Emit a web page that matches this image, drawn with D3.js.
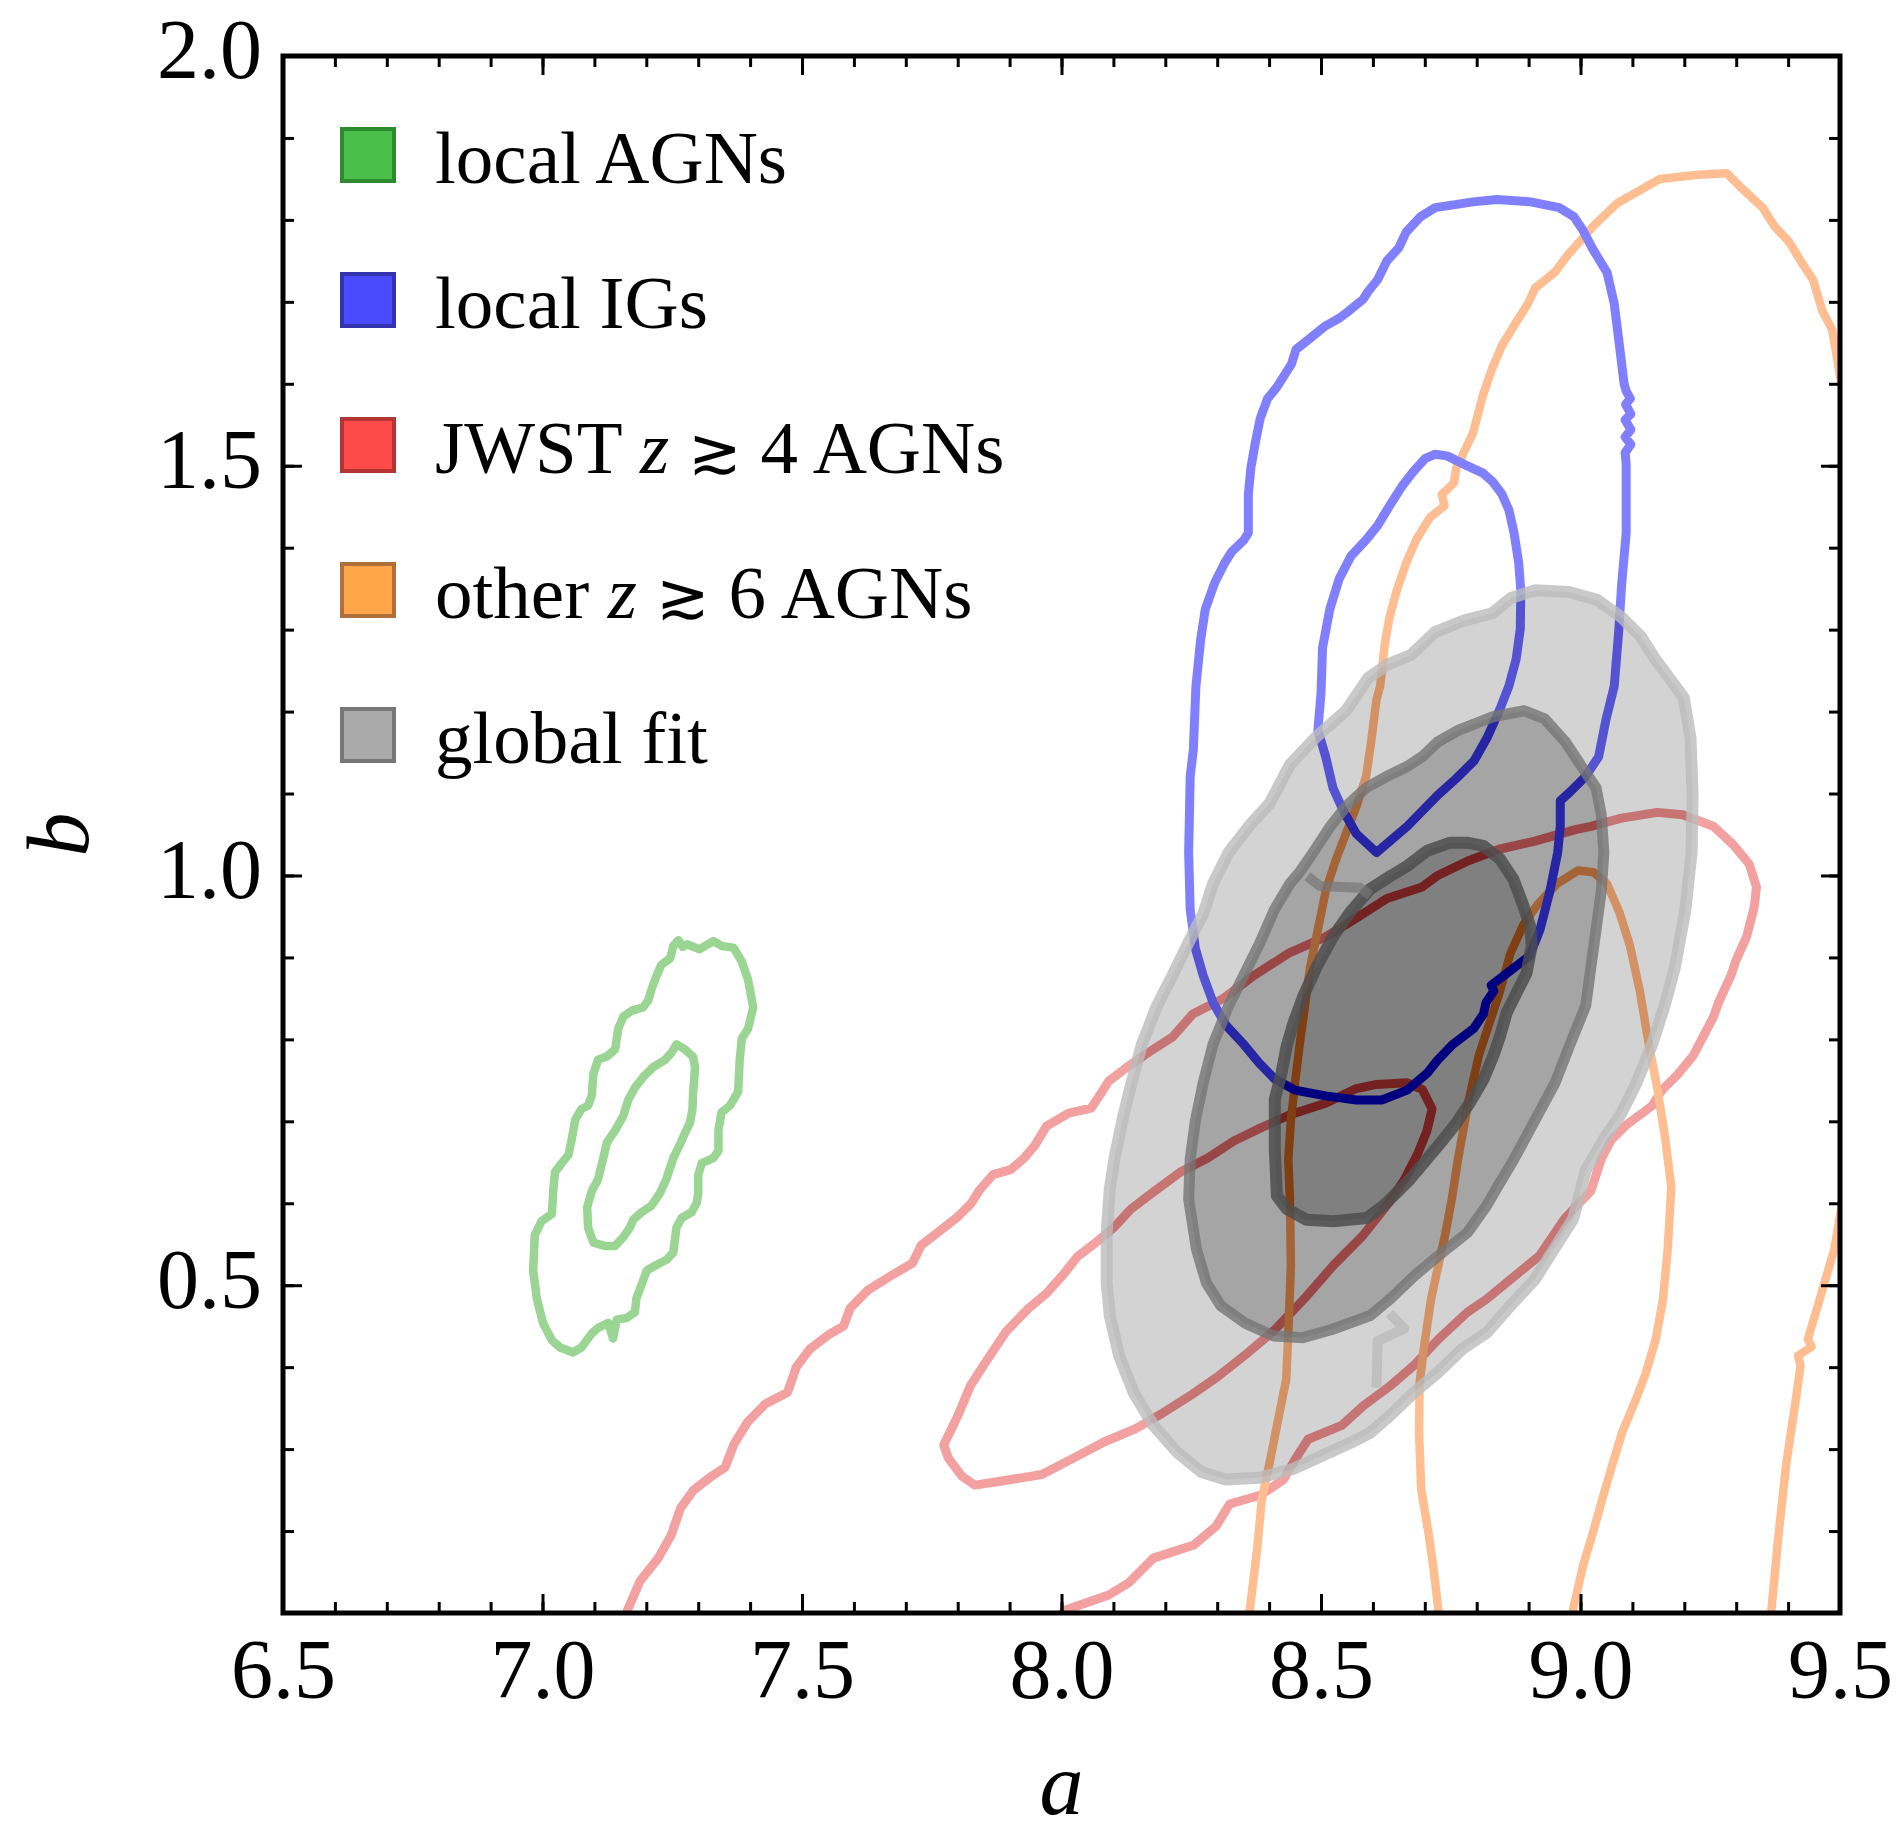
<!DOCTYPE html>
<html>
<head>
<meta charset="utf-8">
<script src="https://cdn.jsdelivr.net/npm/d3@7"></script>
<style>
  body { margin: 0; background: #ffffff; }
  svg text { font-family: "Liberation Serif", "DejaVu Serif", serif; }
</style>
</head>
<body>
<svg id="chart" width="1902" height="1836"></svg>
<script>
// ---- axis ticks and labels ----
const aTicks = [6.5, 7.0, 7.5, 8.0, 8.5, 9.0, 9.5];
const bTicks = [0.5, 1.0, 1.5, 2.0];
const aLabel = "a";
const bLabel = "b";

// ---- legend entries (segments: [text, style]) ----
const legendNames = [
  [["local AGNs", "n"]],
  [["local IGs", "n"]],
  [["JWST ", "n"], ["z", "i"], [" ", "n"], ["\u2273", "s"], [" 4 AGNs", "n"]],
  [["other ", "n"], ["z", "i"], [" ", "n"], ["\u2273", "s"], [" 6 AGNs", "n"]],
  [["global fit", "n"]]
];

// ---- confidence contours, points are [a, b] ----
const localAGNsOuter = [[7.252,0.914],[7.262,0.921],[7.270,0.913],[7.278,0.916],[7.303,0.910],[7.329,0.920],[7.345,0.914],[7.368,0.912],[7.384,0.895],[7.396,0.873],[7.406,0.839],[7.396,0.813],[7.384,0.801],[7.380,0.775],[7.377,0.736],[7.361,0.719],[7.345,0.711],[7.339,0.689],[7.339,0.664],[7.329,0.655],[7.307,0.649],[7.300,0.634],[7.300,0.612],[7.297,0.600],[7.287,0.589],[7.268,0.582],[7.258,0.570],[7.252,0.540],[7.239,0.531],[7.220,0.525],[7.201,0.518],[7.191,0.501],[7.181,0.484],[7.178,0.467],[7.162,0.460],[7.143,0.458],[7.136,0.435],[7.127,0.454],[7.107,0.448],[7.095,0.441],[7.075,0.424],[7.059,0.418],[7.034,0.424],[7.018,0.433],[7.001,0.454],[6.989,0.484],[6.982,0.518],[6.985,0.561],[6.998,0.578],[7.018,0.587],[7.021,0.617],[7.024,0.638],[7.037,0.649],[7.050,0.659],[7.056,0.677],[7.063,0.702],[7.075,0.715],[7.088,0.719],[7.095,0.732],[7.098,0.758],[7.107,0.775],[7.124,0.779],[7.140,0.788],[7.146,0.813],[7.156,0.828],[7.172,0.835],[7.194,0.839],[7.204,0.848],[7.210,0.861],[7.220,0.878],[7.229,0.891],[7.246,0.899]];
const localAGNsInner = [[7.258,0.794],[7.274,0.788],[7.290,0.779],[7.294,0.766],[7.290,0.732],[7.289,0.715],[7.284,0.698],[7.274,0.685],[7.265,0.672],[7.252,0.655],[7.239,0.630],[7.226,0.612],[7.210,0.597],[7.191,0.589],[7.175,0.580],[7.168,0.570],[7.156,0.559],[7.140,0.548],[7.120,0.548],[7.098,0.552],[7.088,0.570],[7.086,0.595],[7.095,0.615],[7.107,0.629],[7.117,0.655],[7.124,0.674],[7.140,0.689],[7.156,0.707],[7.165,0.726],[7.178,0.741],[7.194,0.754],[7.213,0.766],[7.236,0.775],[7.249,0.784]];

const localIGsOuter = [[8.617,0.726],[8.568,0.726],[8.509,0.731],[8.450,0.738],[8.410,0.752],[8.381,0.771],[8.351,0.794],[8.317,0.817],[8.292,0.845],[8.273,0.878],[8.258,0.911],[8.248,0.958],[8.245,1.028],[8.248,1.121],[8.254,1.153],[8.259,1.231],[8.268,1.287],[8.277,1.325],[8.295,1.357],[8.314,1.381],[8.328,1.395],[8.351,1.409],[8.360,1.418],[8.360,1.465],[8.365,1.498],[8.374,1.530],[8.383,1.558],[8.397,1.582],[8.415,1.596],[8.429,1.610],[8.443,1.624],[8.452,1.642],[8.480,1.656],[8.507,1.670],[8.535,1.680],[8.554,1.689],[8.581,1.703],[8.590,1.712],[8.609,1.727],[8.627,1.750],[8.650,1.766],[8.664,1.785],[8.692,1.804],[8.720,1.815],[8.793,1.822],[8.839,1.825],[8.904,1.822],[8.959,1.815],[8.987,1.804],[9.005,1.787],[9.024,1.764],[9.051,1.736],[9.065,1.698],[9.074,1.652],[9.084,1.600],[9.088,1.591],[9.096,1.582],[9.087,1.575],[9.097,1.563],[9.086,1.556],[9.097,1.544],[9.086,1.535],[9.097,1.526],[9.086,1.516],[9.088,1.502],[9.088,1.465],[9.088,1.418],[9.079,1.353],[9.074,1.301],[9.065,1.231],[9.049,1.190],[9.035,1.145],[9.010,1.121],[8.980,1.102],[8.961,1.091],[8.961,1.060],[8.956,1.028],[8.941,0.981],[8.922,0.934],[8.902,0.902],[8.863,0.883],[8.828,0.866],[8.833,0.859],[8.818,0.845],[8.813,0.831],[8.794,0.813],[8.754,0.794],[8.725,0.775],[8.705,0.759],[8.666,0.738]];
const localIGsInner = [[8.500,1.222],[8.503,1.278],[8.517,1.325],[8.535,1.362],[8.558,1.390],[8.586,1.409],[8.609,1.427],[8.632,1.451],[8.655,1.474],[8.678,1.493],[8.701,1.509],[8.720,1.514],[8.743,1.512],[8.775,1.502],[8.812,1.491],[8.830,1.481],[8.849,1.465],[8.862,1.446],[8.872,1.418],[8.881,1.381],[8.885,1.348],[8.884,1.301],[8.876,1.264],[8.862,1.231],[8.846,1.205],[8.820,1.168],[8.795,1.140],[8.760,1.118],[8.725,1.098],[8.666,1.060],[8.607,1.028],[8.568,1.051],[8.543,1.079],[8.523,1.107],[8.509,1.145],[8.494,1.177]];

const jwstOuter = [[7.150,0.080],[7.162,0.101],[7.188,0.139],[7.223,0.167],[7.248,0.195],[7.266,0.228],[7.291,0.250],[7.326,0.267],[7.352,0.278],[7.369,0.306],[7.395,0.333],[7.429,0.355],[7.472,0.369],[7.489,0.400],[7.515,0.422],[7.550,0.439],[7.580,0.450],[7.593,0.472],[7.627,0.494],[7.670,0.511],[7.713,0.527],[7.730,0.549],[7.765,0.566],[7.799,0.583],[7.825,0.599],[7.842,0.616],[7.868,0.635],[7.902,0.641],[7.928,0.655],[7.949,0.671],[7.971,0.694],[8.014,0.710],[8.057,0.716],[8.074,0.732],[8.091,0.749],[8.126,0.766],[8.165,0.783],[8.214,0.803],[8.253,0.831],[8.312,0.850],[8.371,0.878],[8.440,0.906],[8.509,0.925],[8.568,0.948],[8.627,0.972],[8.695,0.986],[8.725,1.000],[8.784,1.018],[8.843,1.032],[8.912,1.042],[8.990,1.056],[9.020,1.060],[9.079,1.070],[9.148,1.077],[9.197,1.074],[9.256,1.060],[9.295,1.037],[9.325,1.014],[9.339,0.986],[9.335,0.962],[9.320,0.925],[9.300,0.897],[9.290,0.878],[9.266,0.845],[9.256,0.827],[9.236,0.803],[9.217,0.780],[9.187,0.757],[9.157,0.738],[9.138,0.719],[9.089,0.696],[9.059,0.677],[9.040,0.654],[9.020,0.615],[8.990,0.595],[8.968,0.580],[8.921,0.536],[8.865,0.507],[8.819,0.483],[8.782,0.467],[8.726,0.434],[8.679,0.402],[8.633,0.377],[8.582,0.353],[8.540,0.329],[8.475,0.312],[8.447,0.284],[8.428,0.263],[8.384,0.244],[8.324,0.233],[8.298,0.206],[8.255,0.183],[8.177,0.167],[8.130,0.137],[8.091,0.122],[8.005,0.103],[7.980,0.080]];
const jwstInner = [[7.773,0.305],[7.799,0.339],[7.825,0.378],[7.859,0.411],[7.894,0.444],[7.937,0.472],[7.971,0.490],[8.006,0.515],[8.031,0.535],[8.066,0.552],[8.100,0.570],[8.134,0.593],[8.169,0.610],[8.229,0.638],[8.281,0.655],[8.332,0.676],[8.384,0.692],[8.440,0.708],[8.509,0.722],[8.568,0.740],[8.607,0.745],[8.666,0.747],[8.695,0.739],[8.714,0.715],[8.704,0.688],[8.686,0.660],[8.660,0.628],[8.630,0.600],[8.580,0.560],[8.525,0.525],[8.470,0.485],[8.410,0.445],[8.360,0.418],[8.300,0.388],[8.250,0.366],[8.195,0.344],[8.143,0.325],[8.083,0.309],[8.023,0.289],[7.962,0.269],[7.885,0.261],[7.833,0.256],[7.808,0.267],[7.782,0.289]];

const otherOuter = [[8.360,0.080],[8.363,0.105],[8.377,0.178],[8.386,0.239],[8.400,0.280],[8.419,0.341],[8.433,0.385],[8.437,0.442],[8.442,0.524],[8.440,0.605],[8.437,0.654],[8.442,0.701],[8.450,0.747],[8.459,0.794],[8.469,0.841],[8.479,0.888],[8.494,0.934],[8.509,0.981],[8.528,1.018],[8.548,1.051],[8.568,1.084],[8.587,1.121],[8.597,1.165],[8.607,1.215],[8.614,1.231],[8.623,1.283],[8.632,1.315],[8.646,1.348],[8.664,1.381],[8.683,1.409],[8.710,1.437],[8.738,1.451],[8.733,1.465],[8.756,1.479],[8.761,1.498],[8.775,1.516],[8.793,1.540],[8.812,1.586],[8.830,1.619],[8.849,1.647],[8.876,1.675],[8.899,1.698],[8.913,1.717],[8.950,1.736],[8.978,1.759],[9.024,1.792],[9.070,1.820],[9.153,1.850],[9.227,1.855],[9.282,1.857],[9.310,1.839],[9.351,1.815],[9.374,1.792],[9.402,1.773],[9.429,1.745],[9.448,1.727],[9.466,1.689],[9.485,1.666],[9.499,1.614],[9.515,1.550],[9.600,1.500],[9.600,0.680],[9.515,0.640],[9.489,0.544],[9.461,0.483],[9.438,0.434],[9.445,0.425],[9.419,0.414],[9.424,0.402],[9.415,0.361],[9.396,0.280],[9.382,0.198],[9.368,0.105],[9.366,0.080]];
const otherInner = [[8.722,0.080],[8.726,0.105],[8.716,0.158],[8.707,0.198],[8.693,0.251],[8.689,0.320],[8.690,0.381],[8.698,0.422],[8.712,0.483],[8.726,0.524],[8.740,0.564],[8.752,0.605],[8.764,0.654],[8.784,0.724],[8.804,0.780],[8.823,0.817],[8.843,0.855],[8.865,0.905],[8.890,0.940],[8.918,0.965],[8.955,0.990],[8.995,1.006],[9.025,1.004],[9.051,0.990],[9.075,0.955],[9.095,0.915],[9.114,0.860],[9.130,0.800],[9.148,0.740],[9.163,0.680],[9.175,0.620],[9.168,0.544],[9.159,0.483],[9.145,0.434],[9.126,0.393],[9.107,0.361],[9.080,0.320],[9.061,0.280],[9.042,0.239],[9.024,0.198],[9.005,0.158],[8.986,0.105],[8.984,0.080]];

// global fit: three nested credible regions
const globalFit1 = [[8.913,1.348],[8.978,1.346],[9.033,1.336],[9.079,1.315],[9.116,1.292],[9.144,1.264],[9.171,1.241],[9.199,1.217],[9.212,1.168],[9.216,1.098],[9.214,1.028],[9.202,0.958],[9.182,0.888],[9.162,0.841],[9.138,0.794],[9.108,0.747],[9.079,0.710],[9.044,0.677],[9.010,0.640],[8.986,0.581],[8.949,0.544],[8.912,0.507],[8.865,0.475],[8.819,0.442],[8.772,0.422],[8.726,0.394],[8.679,0.369],[8.633,0.341],[8.595,0.320],[8.558,0.308],[8.502,0.292],[8.447,0.276],[8.381,0.265],[8.316,0.263],[8.270,0.272],[8.223,0.296],[8.177,0.329],[8.139,0.369],[8.111,0.414],[8.093,0.463],[8.087,0.503],[8.087,0.564],[8.093,0.617],[8.103,0.658],[8.119,0.706],[8.135,0.747],[8.155,0.794],[8.184,0.841],[8.214,0.878],[8.243,0.916],[8.273,0.953],[8.292,0.990],[8.322,1.028],[8.361,1.060],[8.401,1.088],[8.440,1.135],[8.489,1.168],[8.548,1.201],[8.591,1.241],[8.627,1.257],[8.673,1.269],[8.720,1.297],[8.775,1.311],[8.830,1.320],[8.867,1.339]];
const globalFit2 = [[8.892,1.201],[8.931,1.191],[8.971,1.163],[9.000,1.135],[9.030,1.107],[9.040,1.074],[9.045,1.028],[9.040,0.981],[9.030,0.934],[9.020,0.888],[9.010,0.841],[8.980,0.794],[8.951,0.747],[8.912,0.701],[8.872,0.654],[8.840,0.620],[8.819,0.597],[8.782,0.564],[8.726,0.536],[8.679,0.511],[8.633,0.483],[8.595,0.463],[8.521,0.446],[8.465,0.436],[8.409,0.438],[8.353,0.454],[8.307,0.475],[8.279,0.503],[8.260,0.544],[8.245,0.605],[8.248,0.654],[8.258,0.701],[8.273,0.747],[8.292,0.794],[8.322,0.841],[8.351,0.878],[8.381,0.916],[8.410,0.958],[8.440,0.990],[8.459,1.004],[8.489,1.032],[8.518,1.060],[8.548,1.084],[8.587,1.107],[8.627,1.121],[8.666,1.133],[8.695,1.145],[8.725,1.163],[8.764,1.177],[8.833,1.194]];
const globalFit3 = [[8.781,1.040],[8.813,1.036],[8.845,1.020],[8.871,0.995],[8.890,0.963],[8.903,0.938],[8.906,0.914],[8.896,0.881],[8.877,0.857],[8.858,0.833],[8.845,0.804],[8.832,0.780],[8.813,0.751],[8.787,0.723],[8.761,0.698],[8.736,0.678],[8.704,0.654],[8.671,0.629],[8.646,0.613],[8.620,0.597],[8.588,0.582],[8.524,0.578],[8.472,0.580],[8.434,0.593],[8.415,0.609],[8.411,0.666],[8.411,0.727],[8.424,0.759],[8.434,0.792],[8.447,0.820],[8.466,0.853],[8.492,0.889],[8.524,0.926],[8.556,0.955],[8.594,0.983],[8.633,0.999],[8.665,1.011],[8.704,1.030],[8.749,1.040]];
// small slivers left over on the middle-level boundary
const globalFit2SliverUpper = [[8.474,0.999],[8.498,0.987],[8.575,0.985],[8.595,0.976]];
const globalFit2SliverLower = [[8.607,0.375],[8.609,0.432],[8.660,0.447],[8.632,0.466]];

// ---- layout ----
const svg = d3.select("#chart");
const plot = { left: 283, right: 1840, top: 56, bottom: 1613 };
const x = d3.scaleLinear().domain([6.5, 9.5]).range([plot.left, plot.right]);
const y = d3.scaleLinear().domain([0.1, 2.0]).range([plot.bottom, plot.top]);

const openLine = d3.line().x(d => x(d[0])).y(d => y(d[1]));
const closedLine = d3.line().x(d => x(d[0])).y(d => y(d[1])).curve(d3.curveLinearClosed);

// contour line styles
const lineSets = [
  { rgb: [242, 160, 160], width: 9, paths: [[jwstOuter, false], [jwstInner, true]] },
  { rgb: [255, 190, 145], width: 8.5, paths: [[otherOuter, false], [otherInner, false]] },
  { rgb: [128, 128, 255], width: 9, paths: [[localIGsOuter, true], [localIGsInner, true]] },
  { rgb: [154, 213, 148], width: 8.5, paths: [[localAGNsOuter, true], [localAGNsInner, true]] }
];
// darkening applied inside each global-fit level (cumulative)
const levelShade = [44, 90, 127];
const levelRegions = [globalFit1, globalFit2, globalFit3];
const levelStroke = [
  { color: "rgb(188,188,188)", opacity: 0.8, width: 12 },
  { color: "rgb(118,118,118)", opacity: 0.8, width: 11 },
  { color: "rgb(78,78,78)", opacity: 0.85, width: 12 }
];

const shade = (rgb, d) => `rgb(${rgb.map(v => Math.max(0, v - d)).join(",")})`;

const defs = svg.append("defs");
defs.append("clipPath").attr("id", "plotClip")
  .append("rect").attr("x", plot.left).attr("y", plot.top)
  .attr("width", plot.right - plot.left).attr("height", plot.bottom - plot.top);
levelRegions.forEach((reg, i) => {
  defs.append("clipPath").attr("id", "level" + i)
    .append("path").attr("d", closedLine(reg));
});

const layer = svg.append("g").attr("clip-path", "url(#plotClip)");

function drawLines(g, d) {
  lineSets.forEach(s => {
    s.paths.forEach(([pts, closed]) => {
      g.append("path")
        .attr("d", closed ? closedLine(pts) : openLine(pts))
        .attr("fill", "none")
        .attr("stroke", shade(s.rgb, d))
        .attr("stroke-width", s.width)
        .attr("stroke-linejoin", "round")
        .attr("stroke-linecap", "round");
    });
  });
}

drawLines(layer, 0);
levelRegions.forEach((reg, i) => {
  layer.append("path").attr("d", closedLine(reg))
    .attr("fill", shade([255, 255, 255], levelShade[i])).attr("stroke", "none");
  const g = layer.append("g").attr("clip-path", `url(#level${i})`);
  drawLines(g, levelShade[i]);
});
levelRegions.forEach((reg, i) => {
  layer.append("path").attr("d", closedLine(reg))
    .attr("fill", "none")
    .attr("stroke", levelStroke[i].color)
    .attr("stroke-opacity", levelStroke[i].opacity)
    .attr("stroke-width", levelStroke[i].width)
    .attr("stroke-linejoin", "round");
});
layer.append("path").attr("d", openLine(globalFit2SliverUpper))
  .attr("fill", "none").attr("stroke", levelStroke[1].color)
  .attr("stroke-opacity", 0.7).attr("stroke-width", 10).attr("stroke-linejoin", "round");
layer.append("path").attr("d", openLine(globalFit2SliverLower))
  .attr("fill", "none").attr("stroke", levelStroke[0].color)
  .attr("stroke-opacity", 0.8).attr("stroke-width", 10).attr("stroke-linejoin", "round");

// ---- frame and ticks ----
const fmt = d3.format(".1f");
const tickFont = 84;
function styleAxis(g) {
  g.select(".domain").remove();
  g.selectAll(".tick line").attr("stroke", "#000").attr("stroke-width", 3);
  g.selectAll("text").attr("fill", "#000").attr("font-size", tickFont)
    .attr("font-family", "Liberation Serif, DejaVu Serif, serif");
}
const aMinor = x.ticks(30);
const bMinor = y.ticks(19);

svg.append("g").attr("transform", `translate(0,${plot.bottom})`)
  .call(d3.axisBottom(x).tickValues(aMinor).tickSize(-11).tickSizeOuter(0).tickFormat("")).call(styleAxis);
svg.append("g").attr("transform", `translate(0,${plot.bottom})`)
  .call(d3.axisBottom(x).tickValues(aTicks).tickSize(-19).tickSizeOuter(0).tickPadding(25).tickFormat(fmt)).call(styleAxis);
svg.append("g").attr("transform", `translate(0,${plot.top})`)
  .call(d3.axisTop(x).tickValues(aMinor).tickSize(-11).tickSizeOuter(0).tickFormat("")).call(styleAxis);
svg.append("g").attr("transform", `translate(0,${plot.top})`)
  .call(d3.axisTop(x).tickValues(aTicks).tickSize(-19).tickSizeOuter(0).tickFormat("")).call(styleAxis);

svg.append("g").attr("transform", `translate(${plot.left},0)`)
  .call(d3.axisLeft(y).tickValues(bMinor).tickSize(-11).tickSizeOuter(0).tickFormat("")).call(styleAxis);
const leftMajor = svg.append("g").attr("transform", `translate(${plot.left},0)`)
  .call(d3.axisLeft(y).tickValues(bTicks).tickSize(-19).tickSizeOuter(0).tickPadding(21).tickFormat(fmt)).call(styleAxis);
leftMajor.selectAll("text").attr("dy", "0.26em");
svg.append("g").attr("transform", `translate(${plot.right},0)`)
  .call(d3.axisRight(y).tickValues(bMinor).tickSize(-11).tickSizeOuter(0).tickFormat("")).call(styleAxis);
svg.append("g").attr("transform", `translate(${plot.right},0)`)
  .call(d3.axisRight(y).tickValues(bTicks).tickSize(-19).tickSizeOuter(0).tickFormat("")).call(styleAxis);

svg.append("rect")
  .attr("x", plot.left).attr("y", plot.top)
  .attr("width", plot.right - plot.left).attr("height", plot.bottom - plot.top)
  .attr("fill", "none").attr("stroke", "#000").attr("stroke-width", 5);

// axis titles
svg.append("text").attr("x", (plot.left + plot.right) / 2).attr("y", 1814)
  .attr("text-anchor", "middle").attr("font-size", 88).attr("font-style", "italic")
  .text(aLabel);
svg.append("text").attr("transform", `translate(88,${(plot.top + plot.bottom) / 2}) rotate(-90)`)
  .attr("text-anchor", "middle").attr("font-size", 88).attr("font-style", "italic")
  .text(bLabel);

// ---- legend ----
const legendSwatches = [
  { fill: "#4cbf4a", stroke: "#2e8b2e" },
  { fill: "#4a4aff", stroke: "#3333b0" },
  { fill: "#ff4a4a", stroke: "#b53434" },
  { fill: "#ffa64a", stroke: "#b0703a" },
  { fill: "#aaaaaa", stroke: "#777777" }
];
const legend = svg.append("g");
legendNames.forEach((segs, i) => {
  const top = 127 + i * 145;
  legend.append("rect").attr("x", 342).attr("y", top + 2).attr("width", 52).attr("height", 52)
    .attr("fill", legendSwatches[i].fill).attr("stroke", legendSwatches[i].stroke).attr("stroke-width", 4);
  const t = legend.append("text").attr("x", 435).attr("y", top + 56).attr("font-size", 75).attr("fill", "#000");
  segs.forEach(([s, st]) => {
    const ts = t.append("tspan").attr("font-style", st === "i" ? "italic" : "normal").text(s);
    if (st === "s") ts.attr("font-size", 64);
  });
});
</script>
</body>
</html>
